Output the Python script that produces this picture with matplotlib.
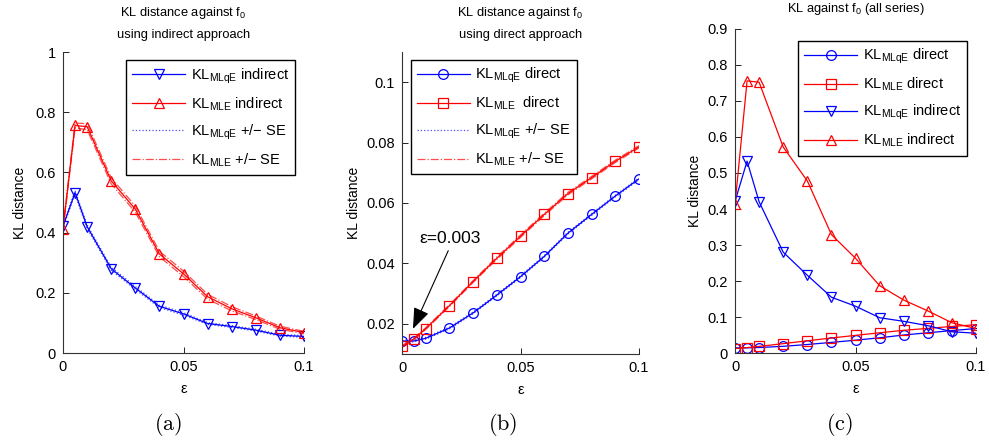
import matplotlib
matplotlib.use("Agg")
import matplotlib.pyplot as plt
import numpy as np

plt.rcParams['font.family'] = ['Liberation Sans', 'DejaVu Sans']
plt.rcParams['mathtext.fontset'] = 'custom'
plt.rcParams['mathtext.rm'] = 'Liberation Sans'
plt.rcParams['mathtext.it'] = 'Liberation Sans:italic'
plt.rcParams['mathtext.bf'] = 'Liberation Sans:bold'

# ---- data ----
eps = [0, 0.005, 0.01, 0.02, 0.03, 0.04, 0.05, 0.06, 0.07, 0.08, 0.09, 0.1]

mlqe_indirect = [0.421, 0.533, 0.420, 0.280, 0.216, 0.155, 0.130, 0.098, 0.088, 0.076, 0.059, 0.055]
mle_indirect = [0.413, 0.756, 0.752, 0.572, 0.478, 0.329, 0.263, 0.187, 0.147, 0.117, 0.084, 0.068]
mlqe_indirect_se = [0.004, 0.006, 0.006, 0.005, 0.005, 0.004, 0.004, 0.003, 0.003, 0.003, 0.003, 0.003]
mle_indirect_se = [0.005, 0.008, 0.010, 0.010, 0.010, 0.009, 0.009, 0.008, 0.007, 0.006, 0.005, 0.004]

mlqe_direct = [0.0143, 0.0143, 0.0152, 0.0186, 0.0236, 0.0295, 0.0356, 0.0423, 0.0500, 0.0562, 0.0623, 0.0680]
mle_direct = [0.0125, 0.0150, 0.0184, 0.0260, 0.0340, 0.0417, 0.0490, 0.0562, 0.0631, 0.0684, 0.0738, 0.0786]
mlqe_direct_se = [0.0003, 0.0003, 0.0003, 0.0003, 0.0003, 0.0003, 0.0003, 0.0003, 0.0003, 0.0003, 0.0003, 0.0003]
mle_direct_se = [0.0003, 0.0003, 0.0003, 0.0003, 0.0003, 0.0004, 0.0004, 0.0004, 0.0004, 0.0004, 0.0004, 0.0004]

xticks = [0, 0.05, 0.1]
xticklabels = ['0', '0.05', '0.1']
yticks_a = [0, 0.2, 0.4, 0.6, 0.8, 1.0]
yticklabels_a = ['0', '0.2', '0.4', '0.6', '0.8', '1']
yticks_b = [0.02, 0.04, 0.06, 0.08, 0.1]
yticklabels_b = ['0.02', '0.04', '0.06', '0.08', '0.1']
yticks_c = [0, 0.1, 0.2, 0.3, 0.4, 0.5, 0.6, 0.7, 0.8, 0.9]
yticklabels_c = ['0', '0.1', '0.2', '0.3', '0.4', '0.5', '0.6', '0.7', '0.8', '0.9']

BLUE = (0, 0, 1)
RED = (1, 0, 0)

fig = plt.figure(figsize=(9.89, 4.46), dpi=100)
ax_a = fig.add_axes([0.0637, 0.2085, 0.2437, 0.6749])
ax_b = fig.add_axes([0.4065, 0.2063, 0.2396, 0.6771])
ax_c = fig.add_axes([0.7432, 0.2085, 0.2437, 0.7265])

TICKFS = 10.5
LEGFS = 10.5
TITLEFS = 9.3

def style(ax):
    for s in ['top', 'right']:
        ax.spines[s].set_visible(False)
    for s in ['left', 'bottom']:
        ax.spines[s].set_linewidth(0.8)
        ax.spines[s].set_color('#333333')
    ax.tick_params(direction='in', length=4, width=0.6, labelsize=TICKFS, pad=5)
    ax.set_xlim(0, 0.1)
    ax.set_xticks(xticks)
    ax.set_xticklabels(xticklabels)
    ax.set_xlabel('ε', fontsize=10.5, labelpad=6)
    ax.set_ylabel('KL distance', fontsize=10)

def se_lines(ax, y, se, color, ls):
    y = np.array(y); se = np.array(se)
    l, = ax.plot(eps, y + se, color=color, ls=ls, lw=0.9, alpha=0.7)
    ax.plot(eps, y - se, color=color, ls=ls, lw=0.9, alpha=0.7)
    return l

mk = dict(mfc='none', lw=0.9, mew=0.9)

legkw = dict(fontsize=LEGFS, frameon=True, fancybox=False, framealpha=1, edgecolor='black',
             handlelength=3.6, handletextpad=0.4, labelspacing=0.66, borderpad=0.42, borderaxespad=0)

# ---- (a) ----
la1, = ax_a.plot(eps, mlqe_indirect, color=BLUE, marker='v', ms=7.5, **mk)
la2, = ax_a.plot(eps, mle_indirect, color=RED, marker='^', ms=7.5, **mk)
la3 = se_lines(ax_a, mlqe_indirect, mlqe_indirect_se, BLUE, ':')
la4 = se_lines(ax_a, mle_indirect, mle_indirect_se, RED, '-.')
style(ax_a)
ax_a.set_ylim(0, 1)
ax_a.set_yticks(yticks_a)
ax_a.set_yticklabels(yticklabels_a)
ax_a.yaxis.labelpad = 6
ax_a.set_title('KL distance against f$_0$\nusing indirect approach', fontsize=TITLEFS, pad=10, linespacing=1.85)
leg = ax_a.legend([la1, la2, la3, la4],
                  [r'KL$_{\mathrm{MLqE}}$ indirect', r'KL$_{\mathrm{MLE}}$ indirect',
                   r'KL$_{\mathrm{MLqE}}$ +/$-$ SE', r'KL$_{\mathrm{MLE}}$ +/$-$ SE'],
                  loc='upper right', bbox_to_anchor=(0.963, 0.973), **legkw)
leg.get_frame().set_linewidth(1.0)

# ---- (b) ----
lb1, = ax_b.plot(eps, mlqe_direct, color=BLUE, marker='o', ms=7, **mk)
lb2, = ax_b.plot(eps, mle_direct, color=RED, marker='s', ms=7.5, **mk)
lb3 = se_lines(ax_b, mlqe_direct, mlqe_direct_se, BLUE, ':')
lb4 = se_lines(ax_b, mle_direct, mle_direct_se, RED, '-.')
style(ax_b)
ax_b.set_ylim(0.01, 0.11)
ax_b.set_yticks(yticks_b)
ax_b.set_yticklabels(yticklabels_b)
ax_b.set_title('KL distance against f$_0$\nusing direct approach', fontsize=TITLEFS, pad=10, linespacing=1.85)
leg = ax_b.legend([lb1, lb2, lb3, lb4],
                  [r'KL$_{\mathrm{MLqE}}$ direct', r'KL$_{\mathrm{MLE}}$  direct',
                   r'KL$_{\mathrm{MLqE}}$ +/$-$ SE', r'KL$_{\mathrm{MLE}}$ +/$-$ SE'],
                  loc='upper left', bbox_to_anchor=(0.038, 0.974), **legkw)
leg.get_frame().set_linewidth(1.0)
ax_b.annotate('', xy=(0.0046, 0.0183), xytext=(0.0195, 0.0442),
              arrowprops=dict(arrowstyle='-|>,head_length=1.0,head_width=0.38', color='black',
                              lw=0.8, mutation_scale=13, shrinkA=0, shrinkB=0))
ax_b.text(0.0072, 0.0482, 'ε=0.003', fontsize=12.5, ha='left', va='center')

# ---- (c) ----
lc1, = ax_c.plot(eps, mlqe_direct, color=BLUE, marker='o', ms=7, **mk)
lc2, = ax_c.plot(eps, mle_direct, color=RED, marker='s', ms=7.5, **mk)
lc3, = ax_c.plot(eps, mlqe_indirect, color=BLUE, marker='v', ms=7.5, **mk)
lc4, = ax_c.plot(eps, mle_indirect, color=RED, marker='^', ms=7.5, **mk)
style(ax_c)
ax_c.set_ylim(0, 0.9)
ax_c.set_yticks(yticks_c)
ax_c.set_yticklabels(yticklabels_c)
ax_c.set_title('KL against f$_0$ (all series)', fontsize=TITLEFS, pad=12)
leg = ax_c.legend([lc1, lc2, lc3, lc4],
                  [r'KL$_{\mathrm{MLqE}}$ direct', r'KL$_{\mathrm{MLE}}$ direct',
                   r'KL$_{\mathrm{MLqE}}$ indirect', r'KL$_{\mathrm{MLE}}$ indirect'],
                  loc='upper right', bbox_to_anchor=(0.963, 0.963), **legkw)
leg.get_frame().set_linewidth(1.0)

# captions
for x, lab in [(0.170, '(a)'), (0.508, '(b)'), (0.849, '(c)')]:
    fig.text(x, 1 - 425 / 446, r'$\mathrm{' + lab + '}$', math_fontfamily='cm',
             fontsize=16, ha='center', va='center')

fig.savefig('out.png', dpi=100)
